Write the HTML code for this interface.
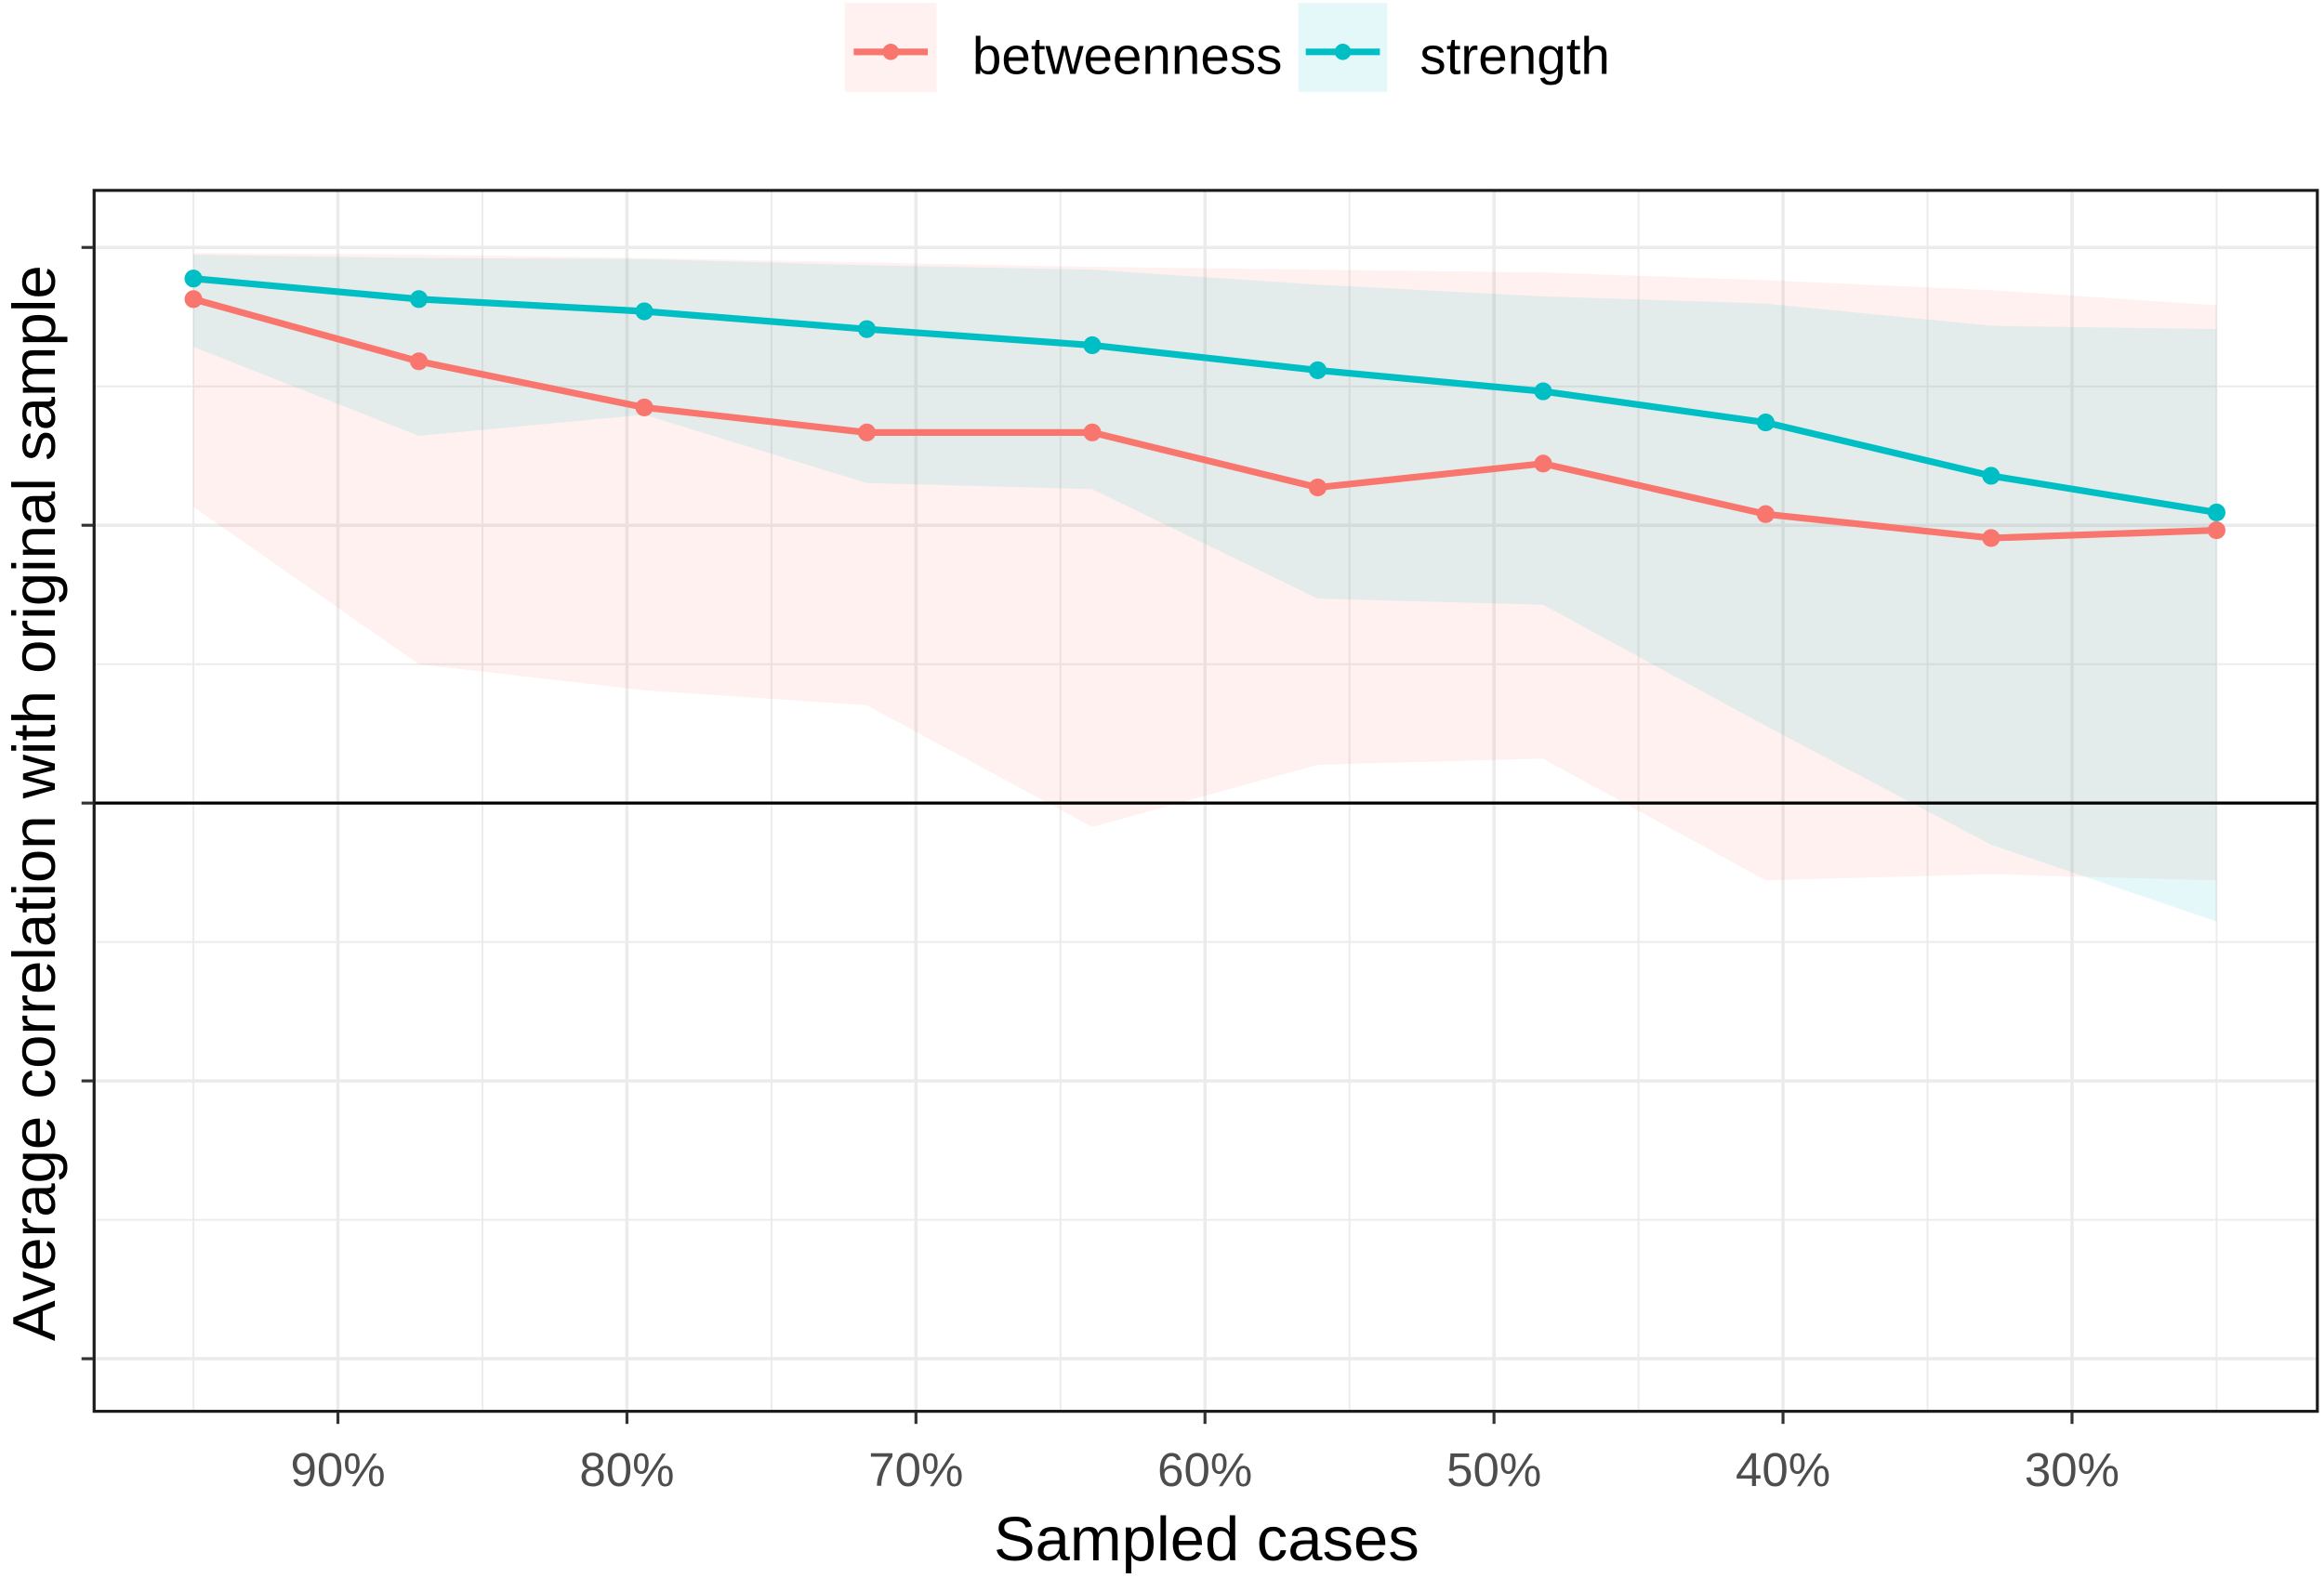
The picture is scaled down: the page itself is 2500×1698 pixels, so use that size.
<!DOCTYPE html>
<html><head><meta charset="utf-8"><style>
html,body{margin:0;padding:0;background:#fff}
svg{display:block}
text{font-family:"Liberation Sans",Arial,sans-serif}
</style></head><body>
<svg id="chart" width="2500" height="1698" viewBox="0 0 1568 1065" preserveAspectRatio="none">
<g id="grid"></g>
<g id="bands"></g>
<g id="lines"></g>
<rect x="63.5" y="128.5" width="1500" height="824" fill="none" stroke="#1a1a1a" stroke-width="2"/>
<g id="axes"></g>
<text x="814" y="1053" font-size="42" text-anchor="middle" fill="#000">Sampled cases</text>
<text transform="translate(37,542) rotate(-90)" font-size="41" text-anchor="middle" fill="#000">Average correlation with original sample</text>
<g>
<rect x="570" y="2" width="62" height="60" fill="#F8766D" fill-opacity="0.1"/>
<line x1="576" y1="35" x2="626" y2="35" stroke="#F8766D" stroke-width="4.5"/>
<circle cx="601" cy="35" r="5.5" fill="#F8766D"/>
<text x="656" y="50" font-size="35.5" fill="#000">betweenness</text>
<rect x="876" y="2" width="60" height="60" fill="#00BFC4" fill-opacity="0.1"/>
<line x1="881" y1="35" x2="931" y2="35" stroke="#00BFC4" stroke-width="4.5"/>
<circle cx="906" cy="35" r="5.5" fill="#00BFC4"/>
<text x="958" y="50" font-size="35.5" fill="#000">strength</text>
</g>
</svg>
<script>
const xPct = [95, 87.2, 79.4, 71.7, 63.9, 56.1, 48.3, 40.6, 32.8, 25];
const betweenness = [0.907, 0.795, 0.712, 0.667, 0.667, 0.568, 0.611, 0.52, 0.477, 0.491];
const betweennessUpper = [0.99, 0.987, 0.981, 0.973, 0.965, 0.96, 0.955, 0.941, 0.923, 0.896];
const betweennessLower = [0.533, 0.25, 0.203, 0.176, -0.043, 0.069, 0.08, -0.139, -0.128, -0.139];
const strength = [0.944, 0.907, 0.885, 0.853, 0.824, 0.779, 0.741, 0.685, 0.589, 0.523];
const strengthUpper = [0.987, 0.981, 0.979, 0.968, 0.96, 0.933, 0.912, 0.899, 0.859, 0.853];
const strengthLower = [0.821, 0.661, 0.699, 0.576, 0.565, 0.368, 0.357, 0.139, -0.075, -0.213];
const xTicks = [90, 80, 70, 60, 50, 40, 30];
const xTickLabels = ["90%", "80%", "70%", "60%", "50%", "40%", "30%"];
const yMajor = [1, 0.5, 0, -0.5, -1];

const NS = "http://www.w3.org/2000/svg";
const X = p => 228 + (90 - p) * 19.5;
const Y = v => 542 - v * 375;
function mk(tag, attrs, parent) {
  const e = document.createElementNS(NS, tag);
  for (const k in attrs) e.setAttribute(k, attrs[k]);
  parent.appendChild(e);
  return e;
}
const grid = document.getElementById("grid");
const bands = document.getElementById("bands");
const lines = document.getElementById("lines");
const axes = document.getElementById("axes");

for (let v = -1; v <= 1.001; v += 0.25) {
  const major = Math.abs(v * 2 - Math.round(v * 2)) < 1e-6;
  const g = mk("line", {x1: 64, x2: 1563, y1: Y(v), y2: Y(v), stroke: "#EBEBEB", "stroke-width": major ? 2.2 : 1.2}, grid);
  
  
}
for (let p = 95; p >= 25; p -= 5) {
  const major = p % 10 === 0;
  const g = mk("line", {x1: X(p), x2: X(p), y1: 129, y2: 952, stroke: "#EBEBEB", "stroke-width": major ? 2.2 : 1.2}, grid);
  
  
}

function band(upper, lower, color, name) {
  let d = "M" + xPct.map((p, i) => X(p) + "," + Y(upper[i])).join("L");
  d += "L" + xPct.slice().reverse().map((p, j) => { const i = xPct.length - 1 - j; return X(p) + "," + Y(lower[i]); }).join("L") + "Z";
  const e = mk("path", {d: d, fill: color, "fill-opacity": 0.1, stroke: "none"}, bands);
  
  
}
band(betweennessUpper, betweennessLower, "#F8766D", "betweenness-band");
band(strengthUpper, strengthLower, "#00BFC4", "strength-band");

const z = mk("line", {x1: 64, x2: 1563, y1: Y(0), y2: Y(0), stroke: "#000", "stroke-width": 2}, bands);



function series(vals, color, name) {
  const e = mk("polyline", {points: xPct.map((p, i) => X(p) + "," + Y(vals[i])).join(" "), fill: "none", stroke: color, "stroke-width": 4.5}, lines);
  
  
  vals.forEach((v, i) => {
    const c = mk("circle", {cx: X(xPct[i]), cy: Y(v), r: 6, fill: color}, lines);
    
    
  });
}
series(betweenness, "#F8766D", "betweenness");
series(strength, "#00BFC4", "strength");

yMajor.forEach(v => {
  const t = mk("line", {x1: 55, x2: 63, y1: Y(v), y2: Y(v), stroke: "#333", "stroke-width": 2}, axes);
  
  
});
xTicks.forEach((p, i) => {
  const t = mk("line", {x1: X(p), x2: X(p), y1: 953, y2: 961, stroke: "#333", "stroke-width": 2}, axes);
  
  
  const l = mk("text", {x: X(p), y: 1003, "font-size": 32, "text-anchor": "middle", fill: "#4D4D4D"}, axes);
  l.textContent = xTickLabels[i];
  
  
});
</script>
</body></html>
